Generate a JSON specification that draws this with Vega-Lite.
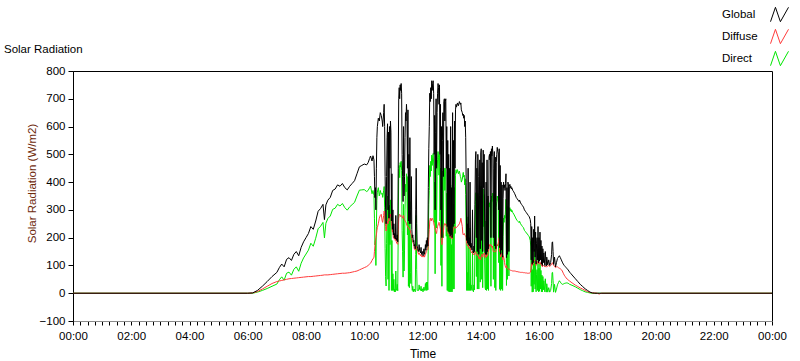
{
"$schema": "https://vega.github.io/schema/vega-lite/v6.json",
"autosize": "none",
"width": 699,
"height": 250,
"padding": {"left": 73, "top": 71, "right": 28, "bottom": 40},
"background": "white",
"title": {"text": "Solar Radiation", "anchor": "start", "frame": "group", "dx": -69, "offset": -50, "fontSize": 11.5, "font": "Liberation Sans", "fontWeight": "normal", "color": "#000"},
"config": {"view": {"stroke": "#000", "strokeWidth": 1}, "font": "Liberation Sans"},
"data": {"values": [
{"m":0,"Global":0,"Diffuse":0,"Direct":0},
{"m":360,"Global":0,"Diffuse":0,"Direct":0},
{"m":370,"Global":1,"Diffuse":1,"Direct":0},
{"m":380,"Global":10,"Diffuse":6,"Direct":4},
{"m":390,"Global":25,"Diffuse":15,"Direct":10},
{"m":400,"Global":42,"Diffuse":25,"Direct":17},
{"m":410,"Global":60,"Diffuse":35,"Direct":25},
{"m":420,"Global":75,"Diffuse":42,"Direct":33},
{"m":425,"Global":92,"Diffuse":44,"Direct":48},
{"m":430,"Global":105,"Diffuse":46,"Direct":59},
{"m":435,"Global":95,"Diffuse":48,"Direct":47},
{"m":440,"Global":122,"Diffuse":50,"Direct":72},
{"m":445,"Global":128,"Diffuse":52,"Direct":76},
{"m":450,"Global":118,"Diffuse":53,"Direct":65},
{"m":455,"Global":140,"Diffuse":54,"Direct":86},
{"m":460,"Global":150,"Diffuse":55,"Direct":95},
{"m":465,"Global":135,"Diffuse":56,"Direct":79},
{"m":470,"Global":165,"Diffuse":57,"Direct":108},
{"m":475,"Global":185,"Diffuse":58,"Direct":127},
{"m":480,"Global":200,"Diffuse":59,"Direct":141},
{"m":485,"Global":215,"Diffuse":60,"Direct":155},
{"m":490,"Global":240,"Diffuse":60,"Direct":180},
{"m":495,"Global":230,"Diffuse":61,"Direct":169},
{"m":500,"Global":260,"Diffuse":62,"Direct":198},
{"m":505,"Global":295,"Diffuse":63,"Direct":232},
{"m":510,"Global":305,"Diffuse":64,"Direct":241},
{"m":515,"Global":320,"Diffuse":65,"Direct":255},
{"m":518,"Global":265,"Diffuse":66,"Direct":199},
{"m":521,"Global":318,"Diffuse":66,"Direct":252},
{"m":525,"Global":335,"Diffuse":66,"Direct":269},
{"m":530,"Global":345,"Diffuse":67,"Direct":278},
{"m":535,"Global":370,"Diffuse":68,"Direct":302},
{"m":540,"Global":375,"Diffuse":69,"Direct":306},
{"m":545,"Global":390,"Diffuse":70,"Direct":320},
{"m":550,"Global":385,"Diffuse":71,"Direct":314},
{"m":555,"Global":395,"Diffuse":72,"Direct":323},
{"m":560,"Global":380,"Diffuse":72,"Direct":308},
{"m":565,"Global":372,"Diffuse":73,"Direct":299},
{"m":570,"Global":385,"Diffuse":74,"Direct":311},
{"m":575,"Global":395,"Diffuse":76,"Direct":319},
{"m":580,"Global":405,"Diffuse":78,"Direct":327},
{"m":585,"Global":430,"Diffuse":80,"Direct":350},
{"m":590,"Global":455,"Diffuse":84,"Direct":371},
{"m":595,"Global":460,"Diffuse":88,"Direct":372},
{"m":600,"Global":465,"Diffuse":92,"Direct":373},
{"m":605,"Global":462,"Diffuse":96,"Direct":366},
{"m":608,"Global":470,"Diffuse":100,"Direct":370},
{"m":611,"Global":485,"Diffuse":105,"Direct":380},
{"m":613,"Global":494,"Diffuse":108,"Direct":386},
{"m":616,"Global":476,"Diffuse":118,"Direct":358},
{"m":618,"Global":495,"Diffuse":125,"Direct":370},
{"m":620,"Global":480,"Diffuse":128,"Direct":352},
{"m":621,"Global":420,"Diffuse":150,"Direct":270},
{"m":622,"Global":344,"Diffuse":170,"Direct":174},
{"m":623,"Global":380,"Diffuse":190,"Direct":190},
{"m":624,"Global":300,"Diffuse":200,"Direct":100},
{"m":625,"Global":450,"Diffuse":210,"Direct":240},
{"m":626,"Global":560,"Diffuse":225,"Direct":335},
{"m":627,"Global":600,"Diffuse":236,"Direct":364},
{"m":629,"Global":630,"Diffuse":250,"Direct":380},
{"m":631,"Global":620,"Diffuse":270,"Direct":350},
{"m":633,"Global":650,"Diffuse":280,"Direct":370},
{"m":635,"Global":640,"Diffuse":284,"Direct":356},
{"m":637,"Global":620,"Diffuse":260,"Direct":360},
{"m":638,"Global":600,"Diffuse":255,"Direct":345},
{"m":640,"Global":650,"Diffuse":280,"Direct":370},
{"m":641,"Global":680,"Diffuse":296,"Direct":384},
{"m":642,"Global":600,"Diffuse":290,"Direct":310},
{"m":643,"Global":420,"Diffuse":260,"Direct":160},
{"m":644,"Global":300,"Diffuse":240,"Direct":60},
{"m":645,"Global":250,"Diffuse":224,"Direct":26},
{"m":646,"Global":420,"Diffuse":240,"Direct":180},
{"m":647,"Global":560,"Diffuse":250,"Direct":310},
{"m":648,"Global":610,"Diffuse":260,"Direct":350},
{"m":649,"Global":300,"Diffuse":250,"Direct":50},
{"m":650,"Global":580,"Diffuse":270,"Direct":310},
{"m":651,"Global":270,"Diffuse":260,"Direct":10},
{"m":652,"Global":600,"Diffuse":284,"Direct":316},
{"m":653,"Global":450,"Diffuse":275,"Direct":175},
{"m":654,"Global":620,"Diffuse":284,"Direct":336},
{"m":655,"Global":580,"Diffuse":280,"Direct":300},
{"m":656,"Global":260,"Diffuse":250,"Direct":10},
{"m":657,"Global":430,"Diffuse":240,"Direct":190},
{"m":658,"Global":230,"Diffuse":220,"Direct":10},
{"m":659,"Global":300,"Diffuse":230,"Direct":70},
{"m":660,"Global":210,"Diffuse":200,"Direct":10},
{"m":661,"Global":250,"Diffuse":200,"Direct":50},
{"m":662,"Global":200,"Diffuse":195,"Direct":5},
{"m":663,"Global":215,"Diffuse":200,"Direct":15},
{"m":664,"Global":195,"Diffuse":190,"Direct":5},
{"m":665,"Global":280,"Diffuse":200,"Direct":80},
{"m":666,"Global":200,"Diffuse":185,"Direct":15},
{"m":667,"Global":190,"Diffuse":180,"Direct":10},
{"m":668,"Global":210,"Diffuse":178,"Direct":32},
{"m":669,"Global":185,"Diffuse":176,"Direct":9},
{"m":670,"Global":450,"Diffuse":220,"Direct":230},
{"m":671,"Global":700,"Diffuse":270,"Direct":430},
{"m":672,"Global":740,"Diffuse":280,"Direct":460},
{"m":673,"Global":700,"Diffuse":284,"Direct":416},
{"m":674,"Global":750,"Diffuse":280,"Direct":470},
{"m":675,"Global":730,"Diffuse":276,"Direct":454},
{"m":676,"Global":755,"Diffuse":280,"Direct":475},
{"m":677,"Global":720,"Diffuse":278,"Direct":442},
{"m":678,"Global":500,"Diffuse":275,"Direct":225},
{"m":679,"Global":420,"Diffuse":270,"Direct":150},
{"m":680,"Global":330,"Diffuse":272,"Direct":58},
{"m":681,"Global":600,"Diffuse":280,"Direct":320},
{"m":682,"Global":350,"Diffuse":270,"Direct":80},
{"m":683,"Global":420,"Diffuse":265,"Direct":155},
{"m":684,"Global":560,"Diffuse":260,"Direct":300},
{"m":685,"Global":650,"Diffuse":258,"Direct":392},
{"m":686,"Global":620,"Diffuse":255,"Direct":365},
{"m":687,"Global":680,"Diffuse":250,"Direct":430},
{"m":688,"Global":640,"Diffuse":245,"Direct":395},
{"m":689,"Global":450,"Diffuse":240,"Direct":210},
{"m":690,"Global":660,"Diffuse":240,"Direct":420},
{"m":691,"Global":260,"Diffuse":235,"Direct":25},
{"m":692,"Global":500,"Diffuse":235,"Direct":265},
{"m":693,"Global":250,"Diffuse":230,"Direct":20},
{"m":694,"Global":560,"Diffuse":230,"Direct":330},
{"m":695,"Global":300,"Diffuse":225,"Direct":75},
{"m":696,"Global":250,"Diffuse":215,"Direct":35},
{"m":697,"Global":420,"Diffuse":210,"Direct":210},
{"m":698,"Global":230,"Diffuse":200,"Direct":30},
{"m":699,"Global":200,"Diffuse":190,"Direct":10},
{"m":700,"Global":210,"Diffuse":185,"Direct":25},
{"m":701,"Global":185,"Diffuse":180,"Direct":5},
{"m":702,"Global":190,"Diffuse":176,"Direct":14},
{"m":703,"Global":170,"Diffuse":160,"Direct":10},
{"m":704,"Global":175,"Diffuse":160,"Direct":15},
{"m":705,"Global":160,"Diffuse":155,"Direct":5},
{"m":706,"Global":300,"Diffuse":160,"Direct":140},
{"m":707,"Global":450,"Diffuse":170,"Direct":280},
{"m":708,"Global":250,"Diffuse":165,"Direct":85},
{"m":709,"Global":170,"Diffuse":160,"Direct":10},
{"m":710,"Global":160,"Diffuse":150,"Direct":10},
{"m":712,"Global":150,"Diffuse":140,"Direct":10},
{"m":713,"Global":175,"Diffuse":145,"Direct":30},
{"m":714,"Global":155,"Diffuse":140,"Direct":15},
{"m":716,"Global":145,"Diffuse":135,"Direct":10},
{"m":717,"Global":165,"Diffuse":140,"Direct":25},
{"m":718,"Global":140,"Diffuse":132,"Direct":8},
{"m":720,"Global":150,"Diffuse":134,"Direct":16},
{"m":721,"Global":135,"Diffuse":130,"Direct":5},
{"m":723,"Global":160,"Diffuse":138,"Direct":22},
{"m":724,"Global":140,"Diffuse":130,"Direct":10},
{"m":725,"Global":150,"Diffuse":135,"Direct":15},
{"m":726,"Global":175,"Diffuse":140,"Direct":35},
{"m":727,"Global":155,"Diffuse":145,"Direct":10},
{"m":728,"Global":190,"Diffuse":150,"Direct":40},
{"m":729,"Global":165,"Diffuse":155,"Direct":10},
{"m":730,"Global":200,"Diffuse":160,"Direct":40},
{"m":731,"Global":170,"Diffuse":158,"Direct":12},
{"m":732,"Global":380,"Diffuse":170,"Direct":210},
{"m":733,"Global":520,"Diffuse":200,"Direct":320},
{"m":734,"Global":600,"Diffuse":230,"Direct":370},
{"m":735,"Global":720,"Diffuse":260,"Direct":460},
{"m":736,"Global":690,"Diffuse":270,"Direct":420},
{"m":737,"Global":740,"Diffuse":265,"Direct":475},
{"m":738,"Global":700,"Diffuse":260,"Direct":440},
{"m":739,"Global":765,"Diffuse":268,"Direct":497},
{"m":740,"Global":730,"Diffuse":270,"Direct":460},
{"m":741,"Global":755,"Diffuse":265,"Direct":490},
{"m":742,"Global":765,"Diffuse":262,"Direct":503},
{"m":743,"Global":720,"Diffuse":255,"Direct":465},
{"m":744,"Global":500,"Diffuse":245,"Direct":255},
{"m":745,"Global":640,"Diffuse":240,"Direct":400},
{"m":746,"Global":300,"Diffuse":230,"Direct":70},
{"m":747,"Global":580,"Diffuse":225,"Direct":355},
{"m":748,"Global":700,"Diffuse":220,"Direct":480},
{"m":749,"Global":450,"Diffuse":215,"Direct":235},
{"m":750,"Global":650,"Diffuse":230,"Direct":420},
{"m":751,"Global":720,"Diffuse":240,"Direct":480},
{"m":752,"Global":755,"Diffuse":245,"Direct":510},
{"m":753,"Global":740,"Diffuse":250,"Direct":490},
{"m":754,"Global":680,"Diffuse":255,"Direct":425},
{"m":755,"Global":750,"Diffuse":250,"Direct":500},
{"m":756,"Global":500,"Diffuse":240,"Direct":260},
{"m":757,"Global":680,"Diffuse":230,"Direct":450},
{"m":758,"Global":300,"Diffuse":200,"Direct":100},
{"m":759,"Global":600,"Diffuse":185,"Direct":415},
{"m":760,"Global":200,"Diffuse":175,"Direct":25},
{"m":761,"Global":550,"Diffuse":190,"Direct":360},
{"m":762,"Global":650,"Diffuse":210,"Direct":440},
{"m":763,"Global":420,"Diffuse":220,"Direct":200},
{"m":764,"Global":690,"Diffuse":240,"Direct":450},
{"m":765,"Global":700,"Diffuse":250,"Direct":450},
{"m":766,"Global":620,"Diffuse":250,"Direct":370},
{"m":767,"Global":690,"Diffuse":245,"Direct":445},
{"m":768,"Global":700,"Diffuse":250,"Direct":450},
{"m":769,"Global":450,"Diffuse":245,"Direct":205},
{"m":770,"Global":600,"Diffuse":240,"Direct":360},
{"m":771,"Global":240,"Diffuse":230,"Direct":10},
{"m":772,"Global":550,"Diffuse":225,"Direct":325},
{"m":773,"Global":222,"Diffuse":215,"Direct":7},
{"m":774,"Global":500,"Diffuse":215,"Direct":285},
{"m":775,"Global":215,"Diffuse":210,"Direct":5},
{"m":776,"Global":450,"Diffuse":210,"Direct":240},
{"m":777,"Global":205,"Diffuse":200,"Direct":5},
{"m":778,"Global":600,"Diffuse":210,"Direct":390},
{"m":779,"Global":210,"Diffuse":205,"Direct":5},
{"m":780,"Global":380,"Diffuse":205,"Direct":175},
{"m":781,"Global":200,"Diffuse":195,"Direct":5},
{"m":782,"Global":650,"Diffuse":215,"Direct":435},
{"m":783,"Global":240,"Diffuse":225,"Direct":15},
{"m":784,"Global":550,"Diffuse":230,"Direct":320},
{"m":785,"Global":250,"Diffuse":235,"Direct":15},
{"m":786,"Global":620,"Diffuse":240,"Direct":380},
{"m":787,"Global":450,"Diffuse":235,"Direct":215},
{"m":788,"Global":660,"Diffuse":235,"Direct":425},
{"m":789,"Global":680,"Diffuse":235,"Direct":445},
{"m":790,"Global":670,"Diffuse":238,"Direct":432},
{"m":792,"Global":685,"Diffuse":240,"Direct":445},
{"m":794,"Global":675,"Diffuse":245,"Direct":430},
{"m":796,"Global":690,"Diffuse":250,"Direct":440},
{"m":798,"Global":680,"Diffuse":260,"Direct":420},
{"m":799,"Global":685,"Diffuse":270,"Direct":415},
{"m":800,"Global":660,"Diffuse":260,"Direct":400},
{"m":802,"Global":650,"Diffuse":240,"Direct":410},
{"m":803,"Global":640,"Diffuse":215,"Direct":425},
{"m":804,"Global":645,"Diffuse":210,"Direct":435},
{"m":805,"Global":630,"Diffuse":212,"Direct":418},
{"m":806,"Global":640,"Diffuse":215,"Direct":425},
{"m":807,"Global":600,"Diffuse":210,"Direct":390},
{"m":808,"Global":620,"Diffuse":208,"Direct":412},
{"m":809,"Global":560,"Diffuse":205,"Direct":355},
{"m":810,"Global":400,"Diffuse":200,"Direct":200},
{"m":811,"Global":190,"Diffuse":180,"Direct":10},
{"m":812,"Global":250,"Diffuse":175,"Direct":75},
{"m":813,"Global":180,"Diffuse":170,"Direct":10},
{"m":814,"Global":450,"Diffuse":175,"Direct":275},
{"m":815,"Global":175,"Diffuse":165,"Direct":10},
{"m":816,"Global":200,"Diffuse":165,"Direct":35},
{"m":817,"Global":170,"Diffuse":160,"Direct":10},
{"m":818,"Global":400,"Diffuse":165,"Direct":235},
{"m":819,"Global":165,"Diffuse":155,"Direct":10},
{"m":820,"Global":180,"Diffuse":150,"Direct":30},
{"m":822,"Global":155,"Diffuse":145,"Direct":10},
{"m":823,"Global":300,"Diffuse":150,"Direct":150},
{"m":824,"Global":150,"Diffuse":140,"Direct":10},
{"m":825,"Global":145,"Diffuse":140,"Direct":5},
{"m":826,"Global":170,"Diffuse":140,"Direct":30},
{"m":827,"Global":150,"Diffuse":138,"Direct":12},
{"m":828,"Global":320,"Diffuse":145,"Direct":175},
{"m":829,"Global":480,"Diffuse":150,"Direct":330},
{"m":830,"Global":510,"Diffuse":148,"Direct":362},
{"m":831,"Global":200,"Diffuse":140,"Direct":60},
{"m":832,"Global":450,"Diffuse":140,"Direct":310},
{"m":833,"Global":150,"Diffuse":135,"Direct":15},
{"m":834,"Global":500,"Diffuse":140,"Direct":360},
{"m":835,"Global":420,"Diffuse":135,"Direct":285},
{"m":836,"Global":140,"Diffuse":125,"Direct":15},
{"m":837,"Global":300,"Diffuse":125,"Direct":175},
{"m":838,"Global":480,"Diffuse":130,"Direct":350},
{"m":839,"Global":160,"Diffuse":120,"Direct":40},
{"m":840,"Global":505,"Diffuse":125,"Direct":380},
{"m":841,"Global":520,"Diffuse":135,"Direct":385},
{"m":842,"Global":190,"Diffuse":140,"Direct":50},
{"m":843,"Global":470,"Diffuse":140,"Direct":330},
{"m":844,"Global":150,"Diffuse":130,"Direct":20},
{"m":845,"Global":515,"Diffuse":140,"Direct":375},
{"m":846,"Global":380,"Diffuse":140,"Direct":240},
{"m":847,"Global":500,"Diffuse":145,"Direct":355},
{"m":848,"Global":260,"Diffuse":140,"Direct":120},
{"m":849,"Global":150,"Diffuse":130,"Direct":20},
{"m":850,"Global":140,"Diffuse":128,"Direct":12},
{"m":851,"Global":400,"Diffuse":140,"Direct":260},
{"m":852,"Global":140,"Diffuse":130,"Direct":10},
{"m":853,"Global":480,"Diffuse":140,"Direct":340},
{"m":854,"Global":150,"Diffuse":135,"Direct":15},
{"m":855,"Global":350,"Diffuse":145,"Direct":205},
{"m":856,"Global":160,"Diffuse":150,"Direct":10},
{"m":857,"Global":490,"Diffuse":165,"Direct":325},
{"m":858,"Global":500,"Diffuse":175,"Direct":325},
{"m":859,"Global":480,"Diffuse":170,"Direct":310},
{"m":860,"Global":510,"Diffuse":175,"Direct":335},
{"m":861,"Global":200,"Diffuse":175,"Direct":25},
{"m":862,"Global":520,"Diffuse":170,"Direct":350},
{"m":863,"Global":495,"Diffuse":165,"Direct":330},
{"m":864,"Global":530,"Diffuse":170,"Direct":360},
{"m":865,"Global":500,"Diffuse":160,"Direct":340},
{"m":866,"Global":200,"Diffuse":150,"Direct":50},
{"m":867,"Global":450,"Diffuse":150,"Direct":300},
{"m":868,"Global":510,"Diffuse":150,"Direct":360},
{"m":869,"Global":170,"Diffuse":150,"Direct":20},
{"m":870,"Global":490,"Diffuse":148,"Direct":342},
{"m":871,"Global":160,"Diffuse":150,"Direct":10},
{"m":872,"Global":470,"Diffuse":160,"Direct":310},
{"m":873,"Global":500,"Diffuse":170,"Direct":330},
{"m":874,"Global":525,"Diffuse":175,"Direct":350},
{"m":875,"Global":510,"Diffuse":170,"Direct":340},
{"m":876,"Global":505,"Diffuse":180,"Direct":325},
{"m":877,"Global":300,"Diffuse":190,"Direct":110},
{"m":878,"Global":520,"Diffuse":200,"Direct":320},
{"m":879,"Global":164,"Diffuse":150,"Direct":14},
{"m":880,"Global":460,"Diffuse":160,"Direct":300},
{"m":881,"Global":140,"Diffuse":130,"Direct":10},
{"m":882,"Global":400,"Diffuse":140,"Direct":260},
{"m":883,"Global":155,"Diffuse":140,"Direct":15},
{"m":884,"Global":390,"Diffuse":145,"Direct":245},
{"m":885,"Global":130,"Diffuse":120,"Direct":10},
{"m":886,"Global":340,"Diffuse":135,"Direct":205},
{"m":887,"Global":400,"Diffuse":130,"Direct":270},
{"m":888,"Global":380,"Diffuse":125,"Direct":255},
{"m":889,"Global":390,"Diffuse":110,"Direct":280},
{"m":890,"Global":370,"Diffuse":100,"Direct":270},
{"m":891,"Global":395,"Diffuse":95,"Direct":300},
{"m":892,"Global":430,"Diffuse":92,"Direct":338},
{"m":893,"Global":128,"Diffuse":100,"Direct":28},
{"m":894,"Global":380,"Diffuse":92,"Direct":288},
{"m":895,"Global":140,"Diffuse":90,"Direct":50},
{"m":896,"Global":400,"Diffuse":88,"Direct":312},
{"m":897,"Global":390,"Diffuse":86,"Direct":304},
{"m":898,"Global":150,"Diffuse":88,"Direct":62},
{"m":899,"Global":385,"Diffuse":85,"Direct":300},
{"m":900,"Global":392,"Diffuse":84,"Direct":308},
{"m":901,"Global":380,"Diffuse":83,"Direct":297},
{"m":902,"Global":385,"Diffuse":82,"Direct":303},
{"m":903,"Global":375,"Diffuse":82,"Direct":293},
{"m":904,"Global":380,"Diffuse":81,"Direct":299},
{"m":906,"Global":370,"Diffuse":80,"Direct":290},
{"m":908,"Global":365,"Diffuse":80,"Direct":285},
{"m":910,"Global":358,"Diffuse":80,"Direct":278},
{"m":912,"Global":350,"Diffuse":79,"Direct":271},
{"m":913,"Global":345,"Diffuse":78,"Direct":267},
{"m":915,"Global":340,"Diffuse":78,"Direct":262},
{"m":917,"Global":335,"Diffuse":77,"Direct":258},
{"m":919,"Global":330,"Diffuse":76,"Direct":254},
{"m":920,"Global":335,"Diffuse":76,"Direct":259},
{"m":922,"Global":325,"Diffuse":75,"Direct":250},
{"m":924,"Global":320,"Diffuse":75,"Direct":245},
{"m":926,"Global":315,"Diffuse":75,"Direct":240},
{"m":928,"Global":310,"Diffuse":74,"Direct":236},
{"m":930,"Global":300,"Diffuse":74,"Direct":226},
{"m":932,"Global":295,"Diffuse":73,"Direct":222},
{"m":934,"Global":290,"Diffuse":73,"Direct":217},
{"m":936,"Global":285,"Diffuse":72,"Direct":213},
{"m":938,"Global":280,"Diffuse":72,"Direct":208},
{"m":940,"Global":275,"Diffuse":72,"Direct":203},
{"m":942,"Global":265,"Diffuse":75,"Direct":190},
{"m":943,"Global":250,"Diffuse":80,"Direct":170},
{"m":944,"Global":120,"Diffuse":95,"Direct":25},
{"m":945,"Global":240,"Diffuse":110,"Direct":130},
{"m":946,"Global":104,"Diffuse":100,"Direct":4},
{"m":947,"Global":200,"Diffuse":115,"Direct":85},
{"m":948,"Global":110,"Diffuse":105,"Direct":5},
{"m":949,"Global":230,"Diffuse":120,"Direct":110},
{"m":950,"Global":150,"Diffuse":118,"Direct":32},
{"m":951,"Global":278,"Diffuse":120,"Direct":158},
{"m":952,"Global":130,"Diffuse":115,"Direct":15},
{"m":953,"Global":220,"Diffuse":115,"Direct":105},
{"m":954,"Global":105,"Diffuse":100,"Direct":5},
{"m":955,"Global":180,"Diffuse":112,"Direct":68},
{"m":956,"Global":200,"Diffuse":115,"Direct":85},
{"m":957,"Global":120,"Diffuse":110,"Direct":10},
{"m":958,"Global":240,"Diffuse":112,"Direct":128},
{"m":959,"Global":110,"Diffuse":105,"Direct":5},
{"m":960,"Global":200,"Diffuse":110,"Direct":90},
{"m":961,"Global":115,"Diffuse":108,"Direct":7},
{"m":962,"Global":220,"Diffuse":112,"Direct":108},
{"m":963,"Global":120,"Diffuse":105,"Direct":15},
{"m":964,"Global":190,"Diffuse":108,"Direct":82},
{"m":965,"Global":105,"Diffuse":100,"Direct":5},
{"m":966,"Global":170,"Diffuse":105,"Direct":65},
{"m":967,"Global":100,"Diffuse":95,"Direct":5},
{"m":968,"Global":160,"Diffuse":100,"Direct":60},
{"m":969,"Global":110,"Diffuse":98,"Direct":12},
{"m":970,"Global":145,"Diffuse":100,"Direct":45},
{"m":972,"Global":100,"Diffuse":95,"Direct":5},
{"m":973,"Global":150,"Diffuse":98,"Direct":52},
{"m":975,"Global":98,"Diffuse":94,"Direct":4},
{"m":976,"Global":130,"Diffuse":96,"Direct":34},
{"m":978,"Global":102,"Diffuse":98,"Direct":4},
{"m":980,"Global":120,"Diffuse":100,"Direct":20},
{"m":982,"Global":100,"Diffuse":96,"Direct":4},
{"m":984,"Global":110,"Diffuse":100,"Direct":10},
{"m":986,"Global":140,"Diffuse":105,"Direct":35},
{"m":987,"Global":182,"Diffuse":108,"Direct":74},
{"m":988,"Global":185,"Diffuse":110,"Direct":75},
{"m":989,"Global":150,"Diffuse":105,"Direct":45},
{"m":990,"Global":104,"Diffuse":100,"Direct":4},
{"m":992,"Global":130,"Diffuse":98,"Direct":32},
{"m":994,"Global":95,"Diffuse":92,"Direct":3},
{"m":996,"Global":110,"Diffuse":95,"Direct":15},
{"m":998,"Global":125,"Diffuse":95,"Direct":30},
{"m":1000,"Global":130,"Diffuse":92,"Direct":38},
{"m":1002,"Global":135,"Diffuse":90,"Direct":45},
{"m":1004,"Global":128,"Diffuse":88,"Direct":40},
{"m":1006,"Global":120,"Diffuse":85,"Direct":35},
{"m":1008,"Global":112,"Diffuse":80,"Direct":32},
{"m":1010,"Global":105,"Diffuse":72,"Direct":33},
{"m":1012,"Global":100,"Diffuse":65,"Direct":35},
{"m":1014,"Global":96,"Diffuse":60,"Direct":36},
{"m":1016,"Global":92,"Diffuse":55,"Direct":37},
{"m":1018,"Global":88,"Diffuse":51,"Direct":37},
{"m":1020,"Global":84,"Diffuse":48,"Direct":36},
{"m":1023,"Global":76,"Diffuse":44,"Direct":32},
{"m":1026,"Global":70,"Diffuse":40,"Direct":30},
{"m":1030,"Global":62,"Diffuse":35,"Direct":27},
{"m":1035,"Global":52,"Diffuse":29,"Direct":23},
{"m":1040,"Global":42,"Diffuse":24,"Direct":18},
{"m":1045,"Global":32,"Diffuse":19,"Direct":13},
{"m":1050,"Global":24,"Diffuse":15,"Direct":9},
{"m":1055,"Global":16,"Diffuse":10,"Direct":5},
{"m":1060,"Global":10,"Diffuse":6,"Direct":3},
{"m":1065,"Global":4,"Diffuse":3,"Direct":1},
{"m":1070,"Global":1,"Diffuse":1,"Direct":0},
{"m":1075,"Global":0,"Diffuse":1,"Direct":0},
{"m":1080,"Global":0,"Diffuse":0,"Direct":0},
{"m":1084,"Global":0,"Diffuse":-3,"Direct":0},
{"m":1088,"Global":0,"Diffuse":0,"Direct":0},
{"m":1440,"Global":0,"Diffuse":0,"Direct":0}
]},
"transform": [{"fold": ["Direct", "Diffuse", "Global"], "as": ["series", "value"]}],
"mark": {"type": "line", "strokeWidth": 1},
"encoding": {
  "x": {"field": "m", "type": "quantitative", "scale": {"domain": [0, 1440], "nice": false, "zero": false},
    "axis": {"orient": "bottom", "title": "Time",
      "values": [0,15,30,45,60,75,90,105,120,135,150,165,180,195,210,225,240,255,270,285,300,315,330,345,360,375,390,405,420,435,450,465,480,495,510,525,540,555,570,585,600,615,630,645,660,675,690,705,720,735,750,765,780,795,810,825,840,855,870,885,900,915,930,945,960,975,990,1005,1020,1035,1050,1065,1080,1095,1110,1125,1140,1155,1170,1185,1200,1215,1230,1245,1260,1275,1290,1305,1320,1335,1350,1365,1380,1395,1410,1425,1440],
      "labelExpr": "datum.value % 120 == 0 ? ((floor(datum.value/60)%24 < 10 ? '0' : '') + (floor(datum.value/60)%24) + ':00') : ''",
      "tickSize": 4,
      "labelOverlap": false, "labelFlush": false, "grid": false,
      "domainColor": "#8c8c8c", "tickColor": "#000", "labelColor": "#000", "labelFontSize": 11.5, "labelPadding": 5,
      "titleFontWeight": "normal", "titleFontSize": 12, "titleColor": "#000", "titleY": 32, "titleBaseline": "middle"}},
  "y": {"field": "value", "type": "quantitative",
    "scale": {"domain": [-100, 800], "nice": false, "zero": false},
    "axis": {"title": "Solar Radiation (W/m2)", "values": [-100, 0, 100, 200, 300, 400, 500, 600, 700, 800],
      "tickSize": 5, "labelPadding": 3, "grid": false, "domainColor": "#000", "tickColor": "#000", "labelColor": "#000", "labelFontSize": 11.5,
      "titleFontWeight": "normal", "titleFontSize": 11.5, "titleColor": "#6e2a0c", "titleX": -41, "titleY": 112, "titleAlign": "center", "titleBaseline": "middle", "titleAngle": 270}},
  "color": {"field": "series", "type": "nominal",
    "scale": {"domain": ["Global", "Diffuse", "Direct"], "range": ["#000000", "#ff3b3b", "#00e600"]},
    "legend": {"orient": "none", "legendX": 697, "legendY": -66, "title": null,
      "symbolType": "M-1,0.8L-0.45,-0.8L0.1,0.8L1,-0.8", "symbolSize": 324, "symbolStrokeWidth": 1, "symbolFillColor": "transparent",
      "labelOffset": -67, "labelAlign": "left", "labelFontSize": 11.5, "labelColor": "#000", "rowPadding": 3, "labelLimit": 100}}
}
}
